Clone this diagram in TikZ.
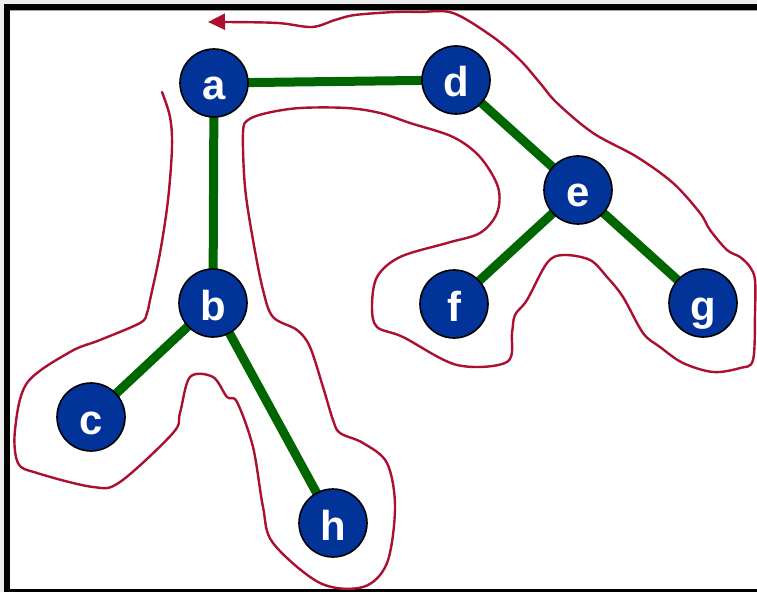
\documentclass[tikz,border=0pt]{standalone}
\usepackage{fontspec}
\setmainfont{Liberation Sans}
\usetikzlibrary{arrows.meta}
\definecolor{vertexblue}{RGB}{2,51,153}
\definecolor{edgegreen}{RGB}{0,102,0}
\definecolor{tourred}{RGB}{172,16,48}
\definecolor{paneedge}{RGB}{236,236,236}
\begin{document}
\begin{tikzpicture}[x=1bp,y=-1bp,
  vertex/.style={circle, minimum size=68bp, inner sep=0pt, fill=vertexblue,
    draw=black, line width=1.6bp, text=white,
    font=\bfseries\fontsize{42}{42}\selectfont, text height=34bp, text depth=0pt},
  treeedge/.style={draw=edgegreen, line width=9bp},
  tour/.style={draw=tourred, line width=2.4bp, line join=round, line cap=round}]
  % page frame
  \useasboundingbox (0,0) rectangle (757,592);
  \fill[white] (0,0) rectangle (757,592);
  \fill[paneedge] (0,0) rectangle (757,4);
  \fill[paneedge] (0,0) rectangle (4,592);
  \fill[black] (4,4) rectangle (757,10);
  \fill[black!35] (10,10) rectangle (757,11);
  \fill[black] (4,4) rectangle (10,592);
  \fill[black] (4,589) rectangle (757,592);

  % vertices
  \coordinate (pa) at (214,83);
  \coordinate (pd) at (456,80);
  \coordinate (pe) at (578,190);
  \coordinate (pf) at (454,304);
  \coordinate (pg) at (703,303);
  \coordinate (pb) at (213,303);
  \coordinate (pc) at (91,417);
  \coordinate (ph) at (333,523);

  % tree edges (under the vertices)
  \draw[treeedge] (pa) -- (pd);
  \draw[treeedge] (pa) -- (pb);
  \draw[treeedge] (pd) -- (pe);
  \draw[treeedge] (pe) -- (pf);
  \draw[treeedge] (pe) -- (pg);
  \draw[treeedge] (pb) -- (pc);
  \draw[treeedge] (pb) -- (ph);

  \node[vertex] (a) at (pa) {a};
  \node[vertex] (d) at (pd) {d};
  \node[vertex] (e) at (pe) {e};
  \node[vertex] (f) at (pf) {f};
  \node[vertex] (g) at (pg) {g};
  \node[vertex] (b) at (pb) {b};
  \node[vertex] (c) at (pc) {c};
  \node[vertex] (h) at (ph) {h};

  % hand-drawn tour around the tree
  \draw[tour, -{Triangle[length=17bp,width=16bp]}] plot[smooth, tension=0.55] coordinates {
    (162,92) (170,117) (172,147) (168,200) (160,253) (150,300) (147,313)
    (140,323) (100,340) (70,352) (27,383) (15,430) (18,463) (37,473)
    (93,487) (120,482) (173,433) (180,413) (190,377) (213,377) (227,397)
    (237,402) (253,447) (263,507) (273,543) (320,583) (363,587) (387,563)
    (395,507) (387,463) (363,443) (340,433) (333,420) (323,387) (310,347)
    (297,330) (273,317) (263,290) (253,240) (245,187) (243,133) (248,120)
    (267,113) (300,108) (347,108) (380,113) (410,123) (453,137) (480,157)
    (498,187) (497,213) (480,233) (447,243) (400,257) (377,277) (372,307)
    (377,327) (403,337) (457,365) (507,362) (512,333) (515,315) (527,300)
    (547,263) (563,255) (590,260) (607,277) (623,297) (643,333) (660,347)
    (683,363) (713,372) (740,368) (753,360) (755,313) (755,280) (750,267)
    (740,257) (727,250) (710,230) (700,213) (673,183) (637,157) (593,133)
    (557,103) (540,83) (520,60) (493,37) (453,13) (420,12) (395,12)
    (355,15) (335,20) (312,27) (278,23) (228,22) (208,22)};
\end{tikzpicture}
\end{document}
